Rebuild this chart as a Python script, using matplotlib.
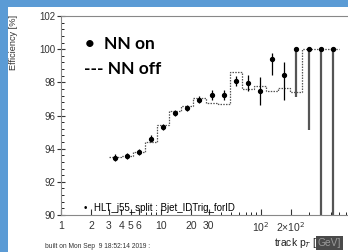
import matplotlib.pyplot as plt
from matplotlib.patches import Rectangle
import numpy as np

# bin edges of track pT [GeV] (log binning)
edges = [3.0, 3.96, 5.24, 6.93, 9.15, 12.1, 16.0, 21.1, 27.9, 36.9, 48.7,
         64.4, 85.1, 112.5, 148.7, 196.5, 259.7, 343.2, 453.6, 599.5]

# NN on: efficiency points with asymmetric errors
eff_on = [93.45, 93.55, 93.8, 94.6, 95.3, 96.15, 96.45, 96.95, 97.25, 97.25,
          98.1, 97.95, 97.5, 99.4, 98.45, 100.0, 100.0, 100.0, 100.0]
err_up = [0.2, 0.2, 0.2, 0.2, 0.2, 0.2, 0.2, 0.2, 0.3, 0.3,
          0.3, 0.5, 0.85, 0.37, 0.8, 0.0, 0.0, 0.0, 0.0]
err_dn = [0.2, 0.2, 0.2, 0.2, 0.2, 0.2, 0.2, 0.2, 0.3, 0.3,
          0.3, 0.5, 0.85, 0.96, 1.5, 2.9, 4.9, 12.0, 12.0]

# NN off: dashed histogram
eff_off = [93.5, 93.55, 93.8, 94.4, 95.4, 96.3, 96.6, 97.05, 96.75, 96.7,
           98.6, 97.6, 97.8, 97.5, 97.65, 97.4, 100.0, 100.0, 100.0]

xticks = [1, 2, 3, 4, 5, 6, 10, 20, 30, 100, 200]
xticklabels = ['1', '2', '3', '4', '5', '6', '10', '20', '30', '10$^2$', '2×10$^2$']

plt.rcParams['font.family'] = ['Liberation Sans', 'DejaVu Sans']

W, H = 348, 252
fig = plt.figure(figsize=(W / 100, H / 100), dpi=100)
fig.patch.set_facecolor('#5b9bd5')
fig.patches.append(Rectangle((8 / W, 0), 1, 1 - 7 / H, transform=fig.transFigure,
                             facecolor='white', edgecolor='none', zorder=-5))

ax = fig.add_axes([61 / W, 1 - 215 / H, 300 / W, (215 - 16) / H])
ax.set_zorder(2)
ax.set_facecolor('white')

edges = np.array(edges)
centers = np.sqrt(edges[:-1] * edges[1:])
eff_on = np.array(eff_on)
big = np.array(err_dn) > 2

# NN off histogram
ax.stairs(eff_off, edges, baseline=None, color='#555555', lw=0.9,
          linestyle=(0, (1.2, 1.0)))

# NN on points
ax.errorbar(centers[~big], eff_on[~big],
            yerr=[np.array(err_dn)[~big], np.array(err_up)[~big]],
            xerr=[centers[~big] * 0.035, centers[~big] * 0.035],
            fmt='o', color='black', ms=2.8, elinewidth=0.9, capsize=0)
ax.errorbar(centers[big], eff_on[big],
            yerr=[np.array(err_dn)[big], np.array(err_up)[big]],
            fmt='o', color='black', ecolor='#555555', ms=2.8, elinewidth=1.6, capsize=0)

ax.set_xscale('log')
ax.set_xlim(1, 1000)
ax.set_ylim(90, 102)
ax.set_xticks(xticks)
ax.set_xticklabels(xticklabels)
ax.set_xticks([7, 8, 9, 40, 50, 60, 70, 80, 90, 300, 400, 500, 600, 700, 800, 900], minor=True)
ax.set_yticks(np.arange(90, 103, 2))
ax.set_yticks(np.arange(90, 102.01, 0.4), minor=True)
ax.tick_params(axis='x', which='major', direction='in', length=4, labelsize=7.5, pad=4)
ax.tick_params(axis='x', which='minor', direction='in', length=2.5, labelbottom=False)
ax.tick_params(axis='y', which='major', direction='inout', length=6, labelsize=7, pad=1)
ax.tick_params(axis='y', which='minor', direction='in', length=2.5)
ax.tick_params(colors='#333333')
for s in ax.spines.values():
    s.set_color('#888888')
    s.set_linewidth(0.8)

# legend-like texts
fig.text(85 / W, 1 - 44 / H, '•', fontsize=12, fontweight='bold', va='center',
         family=['Lato', 'DejaVu Sans'], zorder=5)
fig.text(104 / W, 1 - 44 / H, 'NN on', fontsize=12.5, fontweight='bold', va='center',
         family=['Lato', 'DejaVu Sans'], zorder=5)
fig.text(84 / W, 1 - 69 / H, '--- NN off', fontsize=12.5, fontweight='bold', va='center',
         family=['Lato', 'DejaVu Sans'], zorder=5)

fig.text(84 / W, 1 - 208 / H, '•', fontsize=7, va='center', zorder=5)
fig.text(94 / W, 1 - 208 / H, 'HLT_j55_split : Bjet_IDTrig_forID', fontsize=7,
         va='center', zorder=5)

fig.text(45 / W, 1 - 246 / H, 'built on Mon Sep  9 18:52:14 2019 :', fontsize=4.8,
         va='center', color='#333333')

fig.text(14 / W, 1 - 15 / H, 'Efficiency [%]', fontsize=6.6, rotation=90,
         ha='center', va='top', color='#333333')

fig.text(317 / W, 1 - 243 / H, 'track p$_T$ [', fontsize=7.4, ha='right', va='center',
         color='#222222')
fig.text(318 / W, 1 - 243 / H, 'GeV]', fontsize=7.4, ha='left', va='center',
         color='#9a9a9a',
         bbox=dict(facecolor='#4a4a4a', edgecolor='none', pad=1.5))

plt.savefig('out.png', dpi=100, facecolor=fig.get_facecolor())
